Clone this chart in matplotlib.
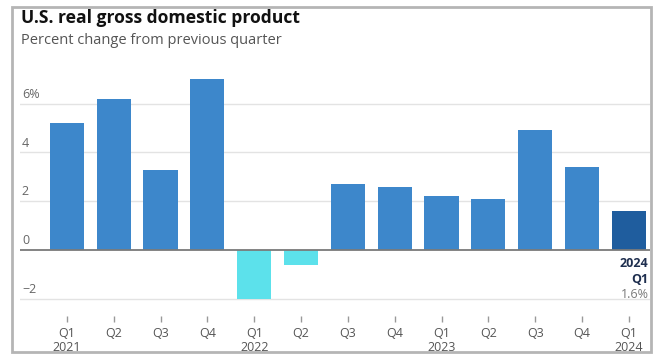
import matplotlib.pyplot as plt
from matplotlib.patches import Rectangle
from matplotlib.transforms import blended_transform_factory

plt.rcParams['font.family'] = ['Open Sans', 'DejaVu Sans']

# data
quarters = ['Q1', 'Q2', 'Q3', 'Q4', 'Q1', 'Q2', 'Q3', 'Q4', 'Q1', 'Q2', 'Q3', 'Q4', 'Q1']
years = ['2021', '', '', '', '2022', '', '', '', '2023', '', '', '', '2024']
gdp = [5.2, 6.2, 3.3, 7.0, -2.0, -0.6, 2.7, 2.6, 2.2, 2.1, 4.9, 3.4, 1.6]
y_ticks = [-2, 0, 2, 4, 6]
y_labels = ['\u22122', '0', '2', '4', '6%']

blue = '#3d87cb'
cyan = '#5ce1eb'
dark = '#1f5d9e'

fig = plt.figure(figsize=(6.55, 3.56), dpi=100)
ax = fig.add_axes([20 / 655, 1 - 316 / 356, 630 / 655, 249 / 356])

colors = [cyan if v < 0 else blue for v in gdp]
colors[-1] = dark
x = list(range(len(gdp)))
ax.bar(x, gdp, width=0.73, color=colors, zorder=3)

ax.set_xlim(-1.0, 12.45)
ax.set_ylim(-2.7, 7.5)

# gridlines + zero line
for t in y_ticks:
    if t == 0:
        ax.axhline(t, color='#7a7a7a', lw=1.3, zorder=4)
    else:
        ax.axhline(t, color='#e3e3e3', lw=1.0, zorder=1)

# y labels sit on top of the gridlines
trans = blended_transform_factory(ax.transAxes, ax.transData)
for t, lab in zip(y_ticks, y_labels):
    ax.text(0.003, t + 0.12, lab, transform=trans, ha='left', va='bottom',
            fontsize=9, color='#666666')
ax.set_yticks([])

ax.set_xticks(x)
ax.set_xticklabels([q + '\n' + y for q, y in zip(quarters, years)],
                   fontsize=9, color='#555555', linespacing=1.1)
ax.tick_params(axis='x', length=4, width=1, color='#999999', pad=4)
for s in ax.spines.values():
    s.set_visible(False)

# latest value callout
ax.text(12.42, -0.3, '2024', ha='right', va='top', fontsize=9,
        fontweight='bold', color='#1f2f4f')
ax.text(12.42, -0.92, 'Q1', ha='right', va='top', fontsize=9,
        fontweight='bold', color='#1f2f4f')
ax.text(12.42, -1.54, f'{gdp[-1]}%', ha='right', va='top', fontsize=9,
        color='#7a7a7a')

# titles
fig.text(21 / 655, 1 - 18 / 356, 'U.S. real gross domestic product',
         fontsize=12.6, fontweight='bold', color='#111111', va='center', ha='left')
fig.text(21 / 655, 1 - 40 / 356, 'Percent change from previous quarter',
         fontsize=10.5, color='#555555', va='center', ha='left')

# outer frame
fig.patches.append(Rectangle((12 / 655, 4 / 356), 639 / 655, 345 / 356,
                             transform=fig.transFigure, fill=False,
                             edgecolor='#b5b5b5', lw=2))

fig.savefig('out.png', dpi=100)
